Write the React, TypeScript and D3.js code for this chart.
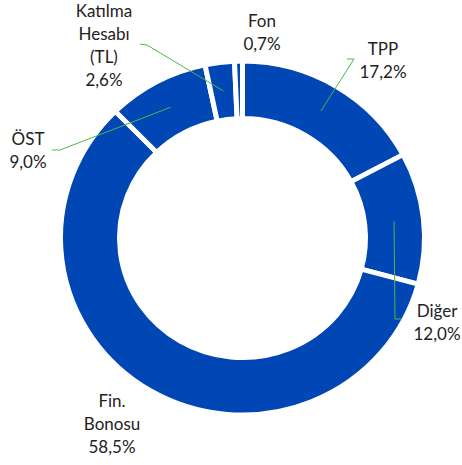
import React from "react";
import * as d3 from "d3";

const categories = ["TPP", "Diğer", "Fin. Bonosu", "ÖST", "Katılma Hesabı (TL)", "Fon"];
const values = [17.2, 12.0, 58.5, 9.0, 2.6, 0.7];
const valueLabels = ["17,2%", "12,0%", "58,5%", "9,0%", "2,6%", "0,7%"];
const labelLines = [["TPP"], ["Diğer"], ["Fin.", "Bonosu"], ["ÖST"], ["Katılma", "Hesabı", "(TL)"], ["Fon"]];

// layout of label blocks (Excel-style placement): center x, first baseline y, leader path elbow
const labelLayout = [
  { x: 383, y: 55, leader: [[354, 59], [347, 59]] },
  { x: 437, y: 317, leader: [[395, 319], [401, 319]] },
  { x: 112, y: 407, leader: null },
  { x: 28, y: 145, leader: [[60, 150], [52, 150]] },
  { x: 104, y: 17, leader: [[147, 45], [140, 44]] },
  { x: 262, y: 27, leader: null },
];

const W = 462;
const H = 465;
const cx = 242.5;
const cy = 238;
const rOuter = 182;
const rInner = 123;
const sy = 0.972;
const blue = "#0046b4";
const green = "#4cb848";
const lineH = 23;

export default function App() {
  const pie = d3.pie<number>().sort(null).startAngle(0).endAngle(2 * Math.PI);
  const arcs = pie(values);
  const arc = d3.arc<d3.PieArcDatum<number>>().innerRadius(rInner).outerRadius(rOuter);
  const mid = d3.arc<d3.PieArcDatum<number>>().innerRadius((rInner + rOuter) / 2).outerRadius((rInner + rOuter) / 2);

  return (
    <svg width={W} height={H} style={{ position: "absolute", left: 0, top: 0 }}>
      <rect width={W} height={H} fill="#fff" />
      <g transform={`translate(${cx},${cy}) scale(1,${sy})`}>
        {arcs.map((a, i) => (
          <path key={i} d={arc(a) || ""} fill={blue} stroke="#fff" strokeWidth={5} strokeLinejoin="miter" />
        ))}
      </g>
      {arcs.map((a, i) => {
        const L = labelLayout[i];
        if (!L.leader) return null;
        const [mx, my] = mid.centroid(a);
        const pts = [[cx + mx, cy + my * sy], ...L.leader];
        return (
          <polyline key={"l" + i} points={pts.map((p) => p.join(",")).join(" ")} fill="none" stroke={green} strokeWidth={1} />
        );
      })}
      {categories.map((c, i) => {
        const L = labelLayout[i];
        const lines = [...labelLines[i], valueLabels[i]];
        return (
          <text key={"t" + i} x={L.x} y={L.y} textAnchor="middle" fontFamily="Lato, 'Open Sans', sans-serif" fontSize={17} fill="#222">
            {lines.map((s, j) => (
              <tspan key={j} x={L.x} y={L.y + j * lineH}>{s}</tspan>
            ))}
          </text>
        );
      })}
    </svg>
  );
}
